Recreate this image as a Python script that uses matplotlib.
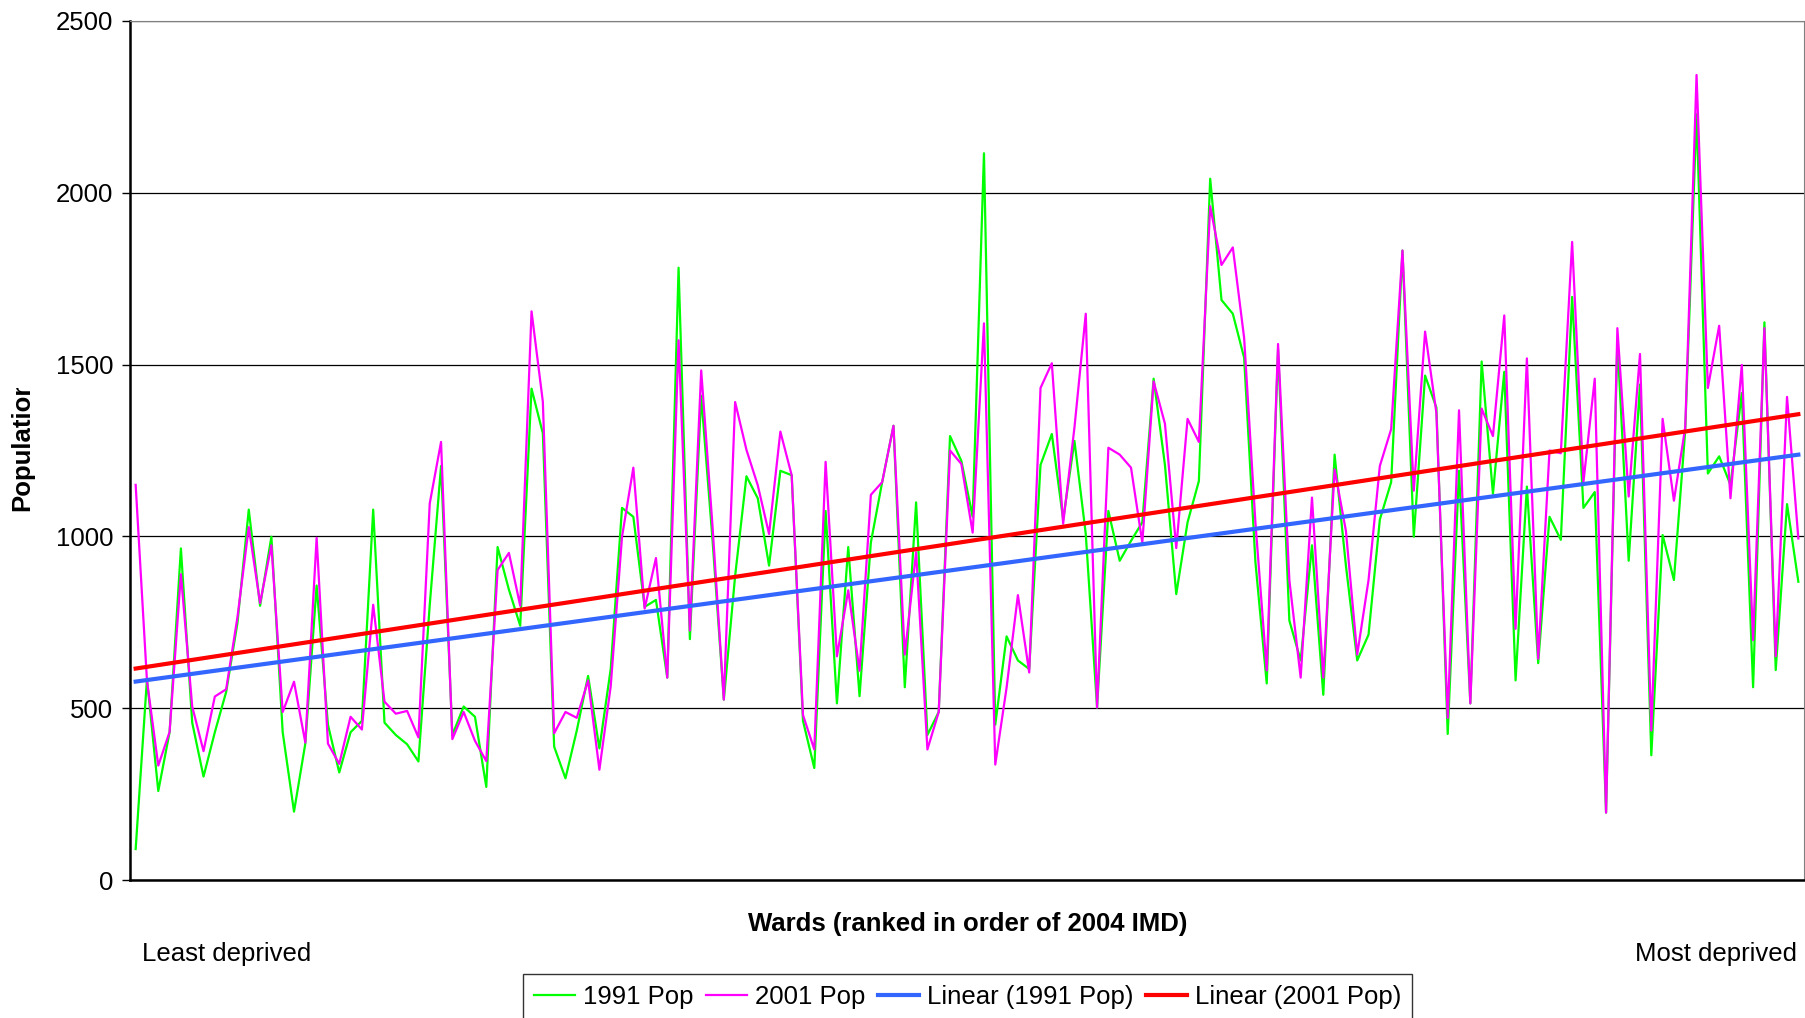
import numpy as np
import matplotlib
matplotlib.use("Agg")
import matplotlib.pyplot as plt
from matplotlib.patches import Rectangle
from matplotlib.lines import Line2D

# ward populations, wards ranked by 2004 IMD (least -> most deprived)
pop_1991 = [90, 585, 259, 430, 965, 458, 301, 430, 547, 748,
            1078, 798, 999, 430, 199, 397, 857, 452, 313, 430,
            463, 1078, 458, 422, 395, 345, 800, 1205, 422, 505,
            475, 271, 969, 845, 740, 1430, 1300, 388, 296, 435,
            594, 383, 614, 1083, 1057, 795, 815, 589, 1782, 701,
            1409, 990, 525, 885, 1175, 1111, 915, 1191, 1178, 463,
            326, 1074, 514, 969, 535, 982, 1158, 1322, 561, 1099,
            422, 489, 1292, 1220, 1057, 2115, 452, 709, 639, 614,
            1208, 1298, 1049, 1278, 1007, 502, 1074, 929, 987, 1041,
            1459, 1208, 832, 1041, 1161, 2041, 1688, 1648, 1520, 925,
            572, 1545, 755, 639, 974, 539, 1238, 915, 639, 714,
            1049, 1158, 1832, 999, 1468, 1375, 425, 1191, 514, 1509,
            1124, 1479, 581, 1145, 631, 1057, 990, 1697, 1083, 1129,
            196, 1571, 929, 1442, 363, 1004, 873, 1309, 2229, 1183,
            1233, 1150, 1417, 561, 1623, 611, 1094, 868]

pop_2001 = [1150, 580, 333, 431, 890, 505, 375, 534, 555, 765,
            1027, 806, 974, 489, 577, 400, 996, 397, 338, 475,
            438, 801, 519, 484, 492, 415, 1096, 1275, 410, 489,
            405, 346, 902, 952, 798, 1655, 1392, 427, 489, 472,
            581, 321, 564, 999, 1200, 790, 937, 589, 1571, 726,
            1483, 1030, 525, 1391, 1252, 1149, 1007, 1305, 1178, 480,
            380, 1217, 651, 843, 609, 1121, 1158, 1322, 656, 954,
            380, 489, 1250, 1211, 1011, 1620, 336, 560, 829, 604,
            1432, 1504, 1037, 1317, 1648, 502, 1258, 1238, 1200, 982,
            1451, 1328, 966, 1342, 1275, 1961, 1790, 1841, 1578, 1040,
            610, 1560, 873, 589, 1113, 589, 1195, 1016, 656, 873,
            1205, 1312, 1832, 1133, 1596, 1359, 472, 1367, 514, 1372,
            1292, 1643, 731, 1518, 644, 1250, 1242, 1857, 1158, 1459,
            196, 1606, 1116, 1531, 435, 1342, 1104, 1317, 2343, 1432,
            1613, 1111, 1499, 698, 1606, 651, 1406, 994]

y_ticks = [0, 500, 1000, 1500, 2000, 2500]

plt.rcParams['font.family'] = ['Liberation Sans', 'DejaVu Sans']
FS = 18.5

x = np.arange(len(pop_1991))
fit91 = np.polyval(np.polyfit(x, pop_1991, 1), x)
fit01 = np.polyval(np.polyfit(x, pop_2001, 1), x)

fig = plt.figure(figsize=(18.05, 10.18), dpi=100)
ax = fig.add_axes([130 / 1805, 1 - 880 / 1018, 1674 / 1805, 859 / 1018])

ax.plot(x, pop_1991, color='#00ff00', lw=1.6, zorder=3)
ax.plot(x, pop_2001, color='#ff00ff', lw=1.6, zorder=4)
ax.plot(x, fit91, color='#3366ff', lw=3.0, zorder=5)
ax.plot(x, fit01, color='#ff0000', lw=3.0, zorder=6)

ax.set_xlim(-0.5, len(x) - 0.5)
ax.set_ylim(0, 2500)
ax.set_yticks(y_ticks)
ax.set_xticks([])
ax.tick_params(axis='y', labelsize=FS, length=6, width=1, direction='out', pad=6)
ax.yaxis.grid(True, color='black', lw=0.9)
ax.set_axisbelow(True)
ax.spines['left'].set_linewidth(1.8)
ax.spines['bottom'].set_linewidth(1.8)
ax.spines['top'].set_color('#808080')
ax.spines['right'].set_color('#808080')

# y label, clipped at the top like the original
ylab = fig.text(0.0125, 0.563, 'Population', rotation=90, fontsize=FS,
                fontweight='bold', ha='center', va='center')
ylab.set_clip_path(Rectangle((0, 0), 0.1, 1 - 388 / 1018, transform=fig.transFigure))

fig.text(0.536, 0.092, 'Wards (ranked in order of 2004 IMD)', fontsize=FS,
         fontweight='bold', ha='center', va='center')
fig.text(0.0785, 0.063, 'Least deprived', fontsize=FS, ha='left', va='center')
fig.text(0.9955, 0.063, 'Most deprived', fontsize=FS, ha='right', va='center')

handles = [Line2D([], [], color='#00ff00', lw=1.6),
           Line2D([], [], color='#ff00ff', lw=1.6),
           Line2D([], [], color='#3366ff', lw=3.0),
           Line2D([], [], color='#ff0000', lw=3.0)]
labels = ['1991 Pop', '2001 Pop', 'Linear (1991 Pop)', 'Linear (2001 Pop)']
leg = fig.legend(handles, labels, loc='upper center', bbox_to_anchor=(0.536, 0.0555),
                 ncol=4, fontsize=FS, frameon=True, fancybox=False,
                 handlelength=1.6, handletextpad=0.3, columnspacing=0.5,
                 borderpad=0.4)
leg.get_frame().set_edgecolor('black')
leg.get_frame().set_linewidth(1.0)

fig.savefig('out.png', dpi=100)
